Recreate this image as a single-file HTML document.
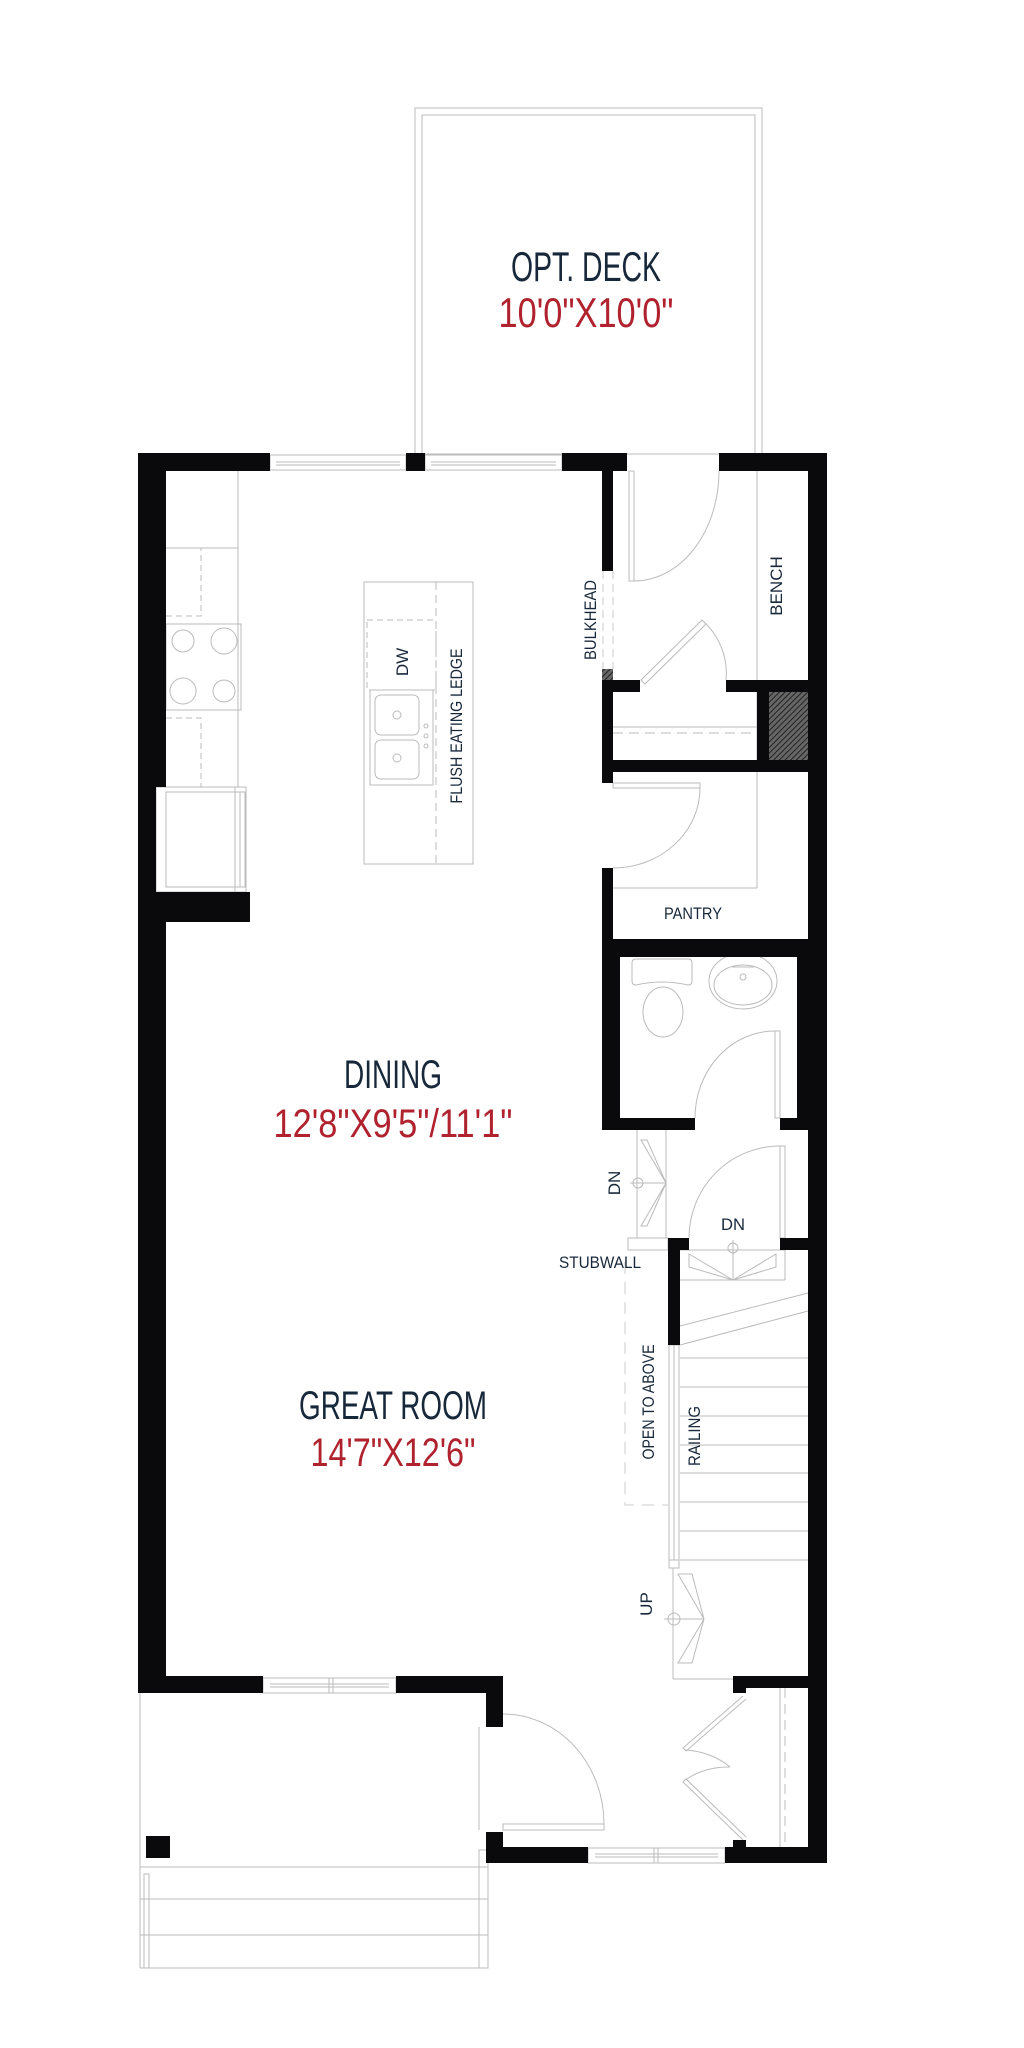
<!DOCTYPE html>
<html><head><meta charset="utf-8"><style>
html,body{margin:0;padding:0;background:#fff;width:1024px;height:2048px;overflow:hidden}
svg{display:block}
text{font-family:"Liberation Sans Narrow","Liberation Sans",sans-serif}
</style></head><body>
<svg width="1024" height="2048" viewBox="0 0 1024 2048" xmlns="http://www.w3.org/2000/svg">
<defs>
<pattern id="hatch" width="4" height="4" patternUnits="userSpaceOnUse" patternTransform="rotate(45)">
<rect width="4" height="4" fill="#666"/><line x1="0" y1="0" x2="0" y2="4" stroke="#222" stroke-width="2"/>
</pattern>
</defs>
<g fill="none" stroke="#bbb" stroke-width="1">
<rect x="415" y="108" width="347" height="346"/>
<rect x="422" y="115" width="333" height="339"/>
<rect x="270" y="455" width="136" height="15"/><line x1="276" y1="462" x2="400" y2="462"/><line x1="276" y1="465" x2="400" y2="465"/>
<rect x="425" y="455" width="137" height="15"/><line x1="431" y1="462" x2="556" y2="462"/><line x1="431" y1="465" x2="556" y2="465"/>
<line x1="238" y1="471" x2="238" y2="787"/>
<line x1="166" y1="548" x2="238" y2="548"/>
<path d="M166 616 H201 V548" stroke-dasharray="6 4"/>
<rect x="166" y="624" width="75" height="86"/>
<circle cx="183" cy="641" r="11"/><circle cx="224" cy="641" r="13"/><circle cx="183" cy="691" r="13"/><circle cx="224" cy="691" r="11"/>
<path d="M166 718 H201 V787" stroke-dasharray="6 4"/>
<rect x="156" y="787" width="90" height="105"/>
<rect x="166" y="792" width="79" height="95"/>
<line x1="235" y1="787" x2="235" y2="892"/><line x1="240" y1="792" x2="240" y2="887"/>
<rect x="364" y="582" width="109" height="282"/>
<line x1="436" y1="582" x2="436" y2="864" stroke-dasharray="8 5"/>
<rect x="367" y="620" width="69" height="70" stroke-dasharray="6 4"/>
<rect x="370" y="690" width="63" height="95"/>
<rect x="375" y="695" width="44" height="40" rx="6"/><rect x="375" y="740" width="44" height="39" rx="6"/>
<circle cx="397" cy="715" r="4"/><circle cx="397" cy="758" r="4"/>
<circle cx="426" cy="726" r="2"/><circle cx="426" cy="736" r="2"/><circle cx="426" cy="746" r="2"/>
<rect x="629" y="471" width="5" height="110"/>
<path d="M634 581 A 85 110 0 0 0 719 471"/>
<line x1="757" y1="453" x2="757" y2="888"/>
<line x1="613" y1="888" x2="757" y2="888"/>
<line x1="613" y1="571" x2="613" y2="669" stroke="#ccc" stroke-dasharray="8 5"/>
<line x1="603" y1="571" x2="603" y2="669" stroke="#ccc" stroke-dasharray="8 5"/>
<path d="M641 680 L702 620 L706 624 L645 684 Z"/>
<path d="M704 622 A 70 70 0 0 1 726 680"/>
<line x1="613" y1="727" x2="757" y2="727"/>
<line x1="613" y1="733" x2="757" y2="733" stroke-dasharray="10 6"/>
<rect x="613" y="783" width="87" height="5"/>
<path d="M700 788 A 87 80 0 0 1 613 868"/>
<path d="M632 963 Q632 959 636 959 H688 Q692 959 692 963 V981 Q692 985 688 985 Q662 979 636 985 Q632 985 632 981 Z"/>
<ellipse cx="663" cy="1012" rx="20" ry="25"/>
<ellipse cx="743" cy="981" rx="34" ry="28"/><ellipse cx="743" cy="985" rx="29" ry="20"/>
<line x1="732" y1="967" x2="754" y2="967"/><circle cx="743" cy="977" r="3"/>
<rect x="775" y="1031" width="5" height="87"/>
<path d="M775 1031 A 80 87 0 0 0 695 1118"/>
<line x1="637" y1="1130" x2="637" y2="1238"/><line x1="666" y1="1130" x2="666" y2="1238"/>
<line x1="630" y1="1183" x2="666" y2="1183"/>
<circle cx="638" cy="1183" r="5"/>
<path d="M641 1140 L647 1140 L666 1183 Z M641 1226 L647 1226 L666 1183 Z"/>
<rect x="628" y="1238" width="40" height="12"/>
<rect x="780" y="1146" width="5" height="92"/>
<path d="M780 1146 A 91 92 0 0 0 689 1238"/>
<line x1="680" y1="1250" x2="785" y2="1250"/>
<line x1="785" y1="1250" x2="785" y2="1280"/>
<line x1="680" y1="1280" x2="785" y2="1280"/>
<line x1="733" y1="1240" x2="733" y2="1280"/>
<circle cx="733" cy="1248" r="5"/>
<path d="M689 1254 V1267 L733 1280 Z M776 1254 V1267 L733 1280 Z"/>
<line x1="680" y1="1326" x2="808" y2="1293"/>
<line x1="680" y1="1345" x2="808" y2="1311"/>
<g>
<line x1="680" y1="1358" x2="808" y2="1358"/><line x1="680" y1="1387" x2="808" y2="1387"/>
<line x1="680" y1="1416" x2="808" y2="1416"/><line x1="680" y1="1445" x2="808" y2="1445"/>
<line x1="680" y1="1473" x2="808" y2="1473"/><line x1="680" y1="1502" x2="808" y2="1502"/>
<line x1="680" y1="1531" x2="808" y2="1531"/><line x1="680" y1="1560" x2="808" y2="1560"/>
</g>
<rect x="669" y="1345" width="10" height="215"/><line x1="674" y1="1345" x2="674" y2="1560"/>
<rect x="669" y="1560" width="10" height="8"/>
<path d="M625 1262 V1505 H668" stroke="#ccc" stroke-dasharray="12 8"/>
<line x1="673" y1="1568" x2="673" y2="1679"/><line x1="673" y1="1679" x2="733" y2="1679"/>
<line x1="664" y1="1619" x2="704" y2="1619"/>
<circle cx="674" cy="1619" r="6"/>
<path d="M678 1574 L692 1574 L704 1619 Z M678 1663 L692 1663 L704 1619 Z"/>
<g transform="translate(0,-8)">
<rect x="263" y="1686" width="133" height="15"/><line x1="270" y1="1692" x2="389" y2="1692"/><line x1="270" y1="1695" x2="389" y2="1695"/><line x1="329" y1="1686" x2="329" y2="1701"/><line x1="333" y1="1686" x2="333" y2="1701"/>
<rect x="588" y="1856" width="137" height="15"/><line x1="595" y1="1862" x2="718" y2="1862"/><line x1="595" y1="1865" x2="718" y2="1865"/><line x1="654" y1="1856" x2="654" y2="1871"/><line x1="658" y1="1856" x2="658" y2="1871"/>
<line x1="479" y1="1735" x2="479" y2="1838"/>
<rect x="503" y="1832" width="101" height="6"/>
<path d="M604 1832 A 101 110 0 0 0 503 1722"/>
<path d="M743 1704 L683 1756 L686 1759 L746 1707"/>
<path d="M685 1758 A 70 60 0 0 1 730 1775"/>
<path d="M743 1848 L683 1790 L686 1787 L746 1845"/>
<path d="M685 1788 A 70 60 0 0 1 730 1775"/>
<line x1="780" y1="1696" x2="780" y2="1855"/>
<line x1="785" y1="1696" x2="785" y2="1855" stroke-dasharray="10 6"/>
<line x1="140" y1="1701" x2="140" y2="1976"/>
<line x1="140" y1="1875" x2="488" y2="1875"/>
<line x1="140" y1="1907" x2="488" y2="1907"/>
<line x1="140" y1="1943" x2="488" y2="1943"/>
<line x1="140" y1="1976" x2="488" y2="1976"/>
<rect x="144" y="1882" width="5" height="94"/>
<rect x="479" y="1858" width="9" height="118"/>
</g>
</g>
<g fill="#0a0a0c">
<rect x="138" y="453" width="132" height="18"/>
<rect x="406" y="453" width="19" height="18"/>
<rect x="562" y="453" width="65" height="18"/>
<rect x="719" y="453" width="107" height="18"/>
<rect x="808" y="453" width="19" height="1410"/>
<rect x="138" y="453" width="28" height="334"/>
<rect x="138" y="787" width="18" height="105"/>
<rect x="138" y="892" width="112" height="30"/>
<rect x="138" y="922" width="28" height="771"/>
<rect x="602" y="471" width="11" height="100"/>
<rect x="602" y="669" width="11" height="11" fill="url(#hatch)"/>
<rect x="602" y="680" width="38" height="12"/>
<rect x="726" y="680" width="82" height="12"/>
<rect x="602" y="680" width="11" height="103"/>
<rect x="757" y="692" width="12" height="68"/>
<rect x="769" y="692" width="39" height="68" fill="url(#hatch)"/>
<rect x="602" y="760" width="224" height="12"/>
<rect x="602" y="868" width="11" height="84"/>
<rect x="602" y="939" width="224" height="18"/>
<rect x="602" y="939" width="18" height="191"/>
<rect x="797" y="939" width="29" height="191"/>
<rect x="602" y="1118" width="93" height="12"/>
<rect x="780" y="1118" width="46" height="12"/>
<rect x="780" y="1238" width="46" height="12"/>
<rect x="668" y="1238" width="21" height="12"/>
<rect x="668" y="1238" width="12" height="107"/>
<g transform="translate(0,-8)">
<rect x="733" y="1684" width="94" height="12"/>
<rect x="733" y="1684" width="13" height="17"/>
<rect x="733" y="1848" width="13" height="23"/>
<rect x="138" y="1684" width="125" height="17"/>
<rect x="396" y="1684" width="107" height="17"/>
<rect x="486" y="1684" width="17" height="51"/>
<rect x="486" y="1840" width="17" height="31"/>
<rect x="486" y="1855" width="102" height="16"/>
<rect x="725" y="1855" width="102" height="16"/>
<rect x="146" y="1844" width="24" height="22"/>
</g>
</g>
<g fill="#17283a">
<text x="586" y="281" font-size="42" text-anchor="middle" textLength="150" lengthAdjust="spacingAndGlyphs">OPT. DECK</text>
<text x="393" y="1088" font-size="40" text-anchor="middle" textLength="98" lengthAdjust="spacingAndGlyphs">DINING</text>
<text x="393" y="1419" font-size="40" text-anchor="middle" textLength="188" lengthAdjust="spacingAndGlyphs">GREAT ROOM</text>
<text x="693" y="919" font-size="17" text-anchor="middle" textLength="58" lengthAdjust="spacingAndGlyphs">PANTRY</text>
<text x="733" y="1230" font-size="17" text-anchor="middle" textLength="24" lengthAdjust="spacingAndGlyphs">DN</text>
<text x="641" y="1268" font-size="17" text-anchor="end" textLength="82" lengthAdjust="spacingAndGlyphs">STUBWALL</text>
<text transform="translate(782,586) rotate(-90)" font-size="17" text-anchor="middle">BENCH</text>
<text transform="translate(596,620) rotate(-90)" font-size="17" text-anchor="middle" textLength="80" lengthAdjust="spacingAndGlyphs">BULKHEAD</text>
<text transform="translate(408,662) rotate(-90)" font-size="17" text-anchor="middle">DW</text>
<text transform="translate(462,726) rotate(-90)" font-size="17" text-anchor="middle" textLength="155" lengthAdjust="spacingAndGlyphs">FLUSH EATING LEDGE</text>
<text transform="translate(620,1183) rotate(-90)" font-size="17" text-anchor="middle">DN</text>
<text transform="translate(654,1402) rotate(-90)" font-size="17" text-anchor="middle" textLength="115" lengthAdjust="spacingAndGlyphs">OPEN TO ABOVE</text>
<text transform="translate(700,1436) rotate(-90)" font-size="17" text-anchor="middle" textLength="60" lengthAdjust="spacingAndGlyphs">RAILING</text>
<text transform="translate(652,1604) rotate(-90)" font-size="17" text-anchor="middle">UP</text>
</g>
<g fill="#b0222e">
<text x="586" y="327" font-size="42" text-anchor="middle" textLength="175" lengthAdjust="spacingAndGlyphs">10'0"X10'0"</text>
<text x="393" y="1137" font-size="40" text-anchor="middle" textLength="239" lengthAdjust="spacingAndGlyphs">12'8"X9'5"/11'1"</text>
<text x="393" y="1466" font-size="40" text-anchor="middle" textLength="165" lengthAdjust="spacingAndGlyphs">14'7"X12'6"</text>
</g>
</svg>
</body></html>
